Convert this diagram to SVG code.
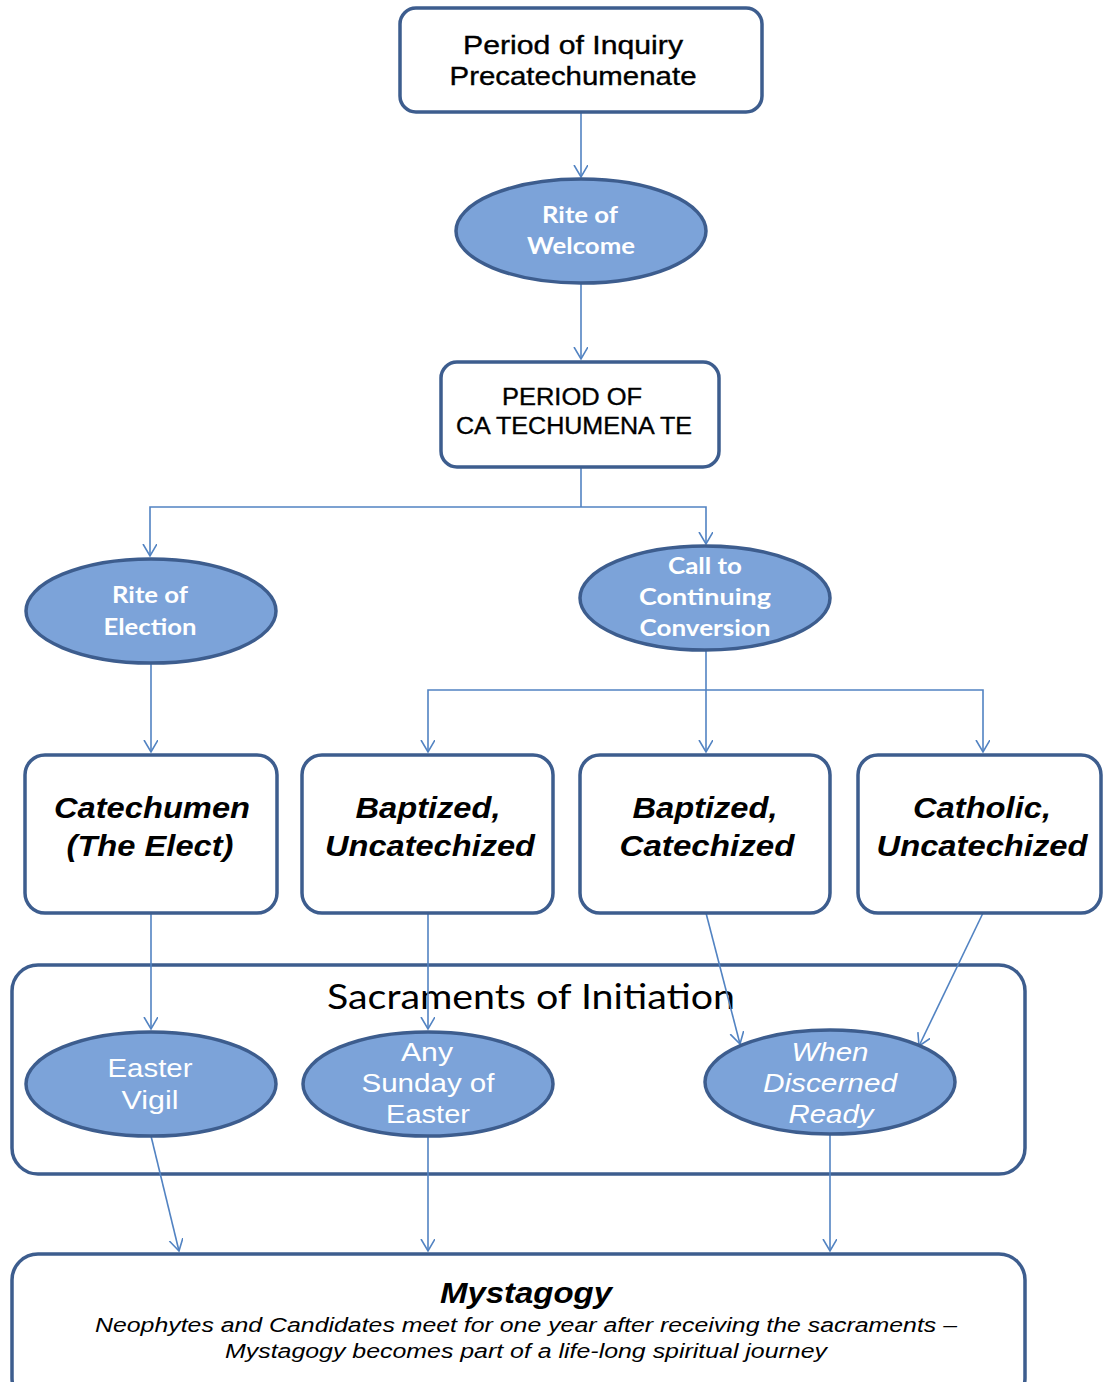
<svg xmlns="http://www.w3.org/2000/svg" width="1103" height="1382" viewBox="0 0 1103 1382">
<style>
.box{fill:#fff;stroke:#3d5d8e;stroke-width:3.5}
.frame{fill:none;stroke:#3d5d8e;stroke-width:3.5}
.ell{fill:#7ca3d9;stroke:#3d5d8e;stroke-width:3.5}
.con{fill:none;stroke:#5283c2;stroke-width:1.6}
.t1{font-family:"Liberation Sans",Arial,sans-serif;font-size:25px;fill:#000;stroke:#000;stroke-width:0.35;text-anchor:middle}
.te{font-family:Lato,"Open Sans",sans-serif;font-weight:bold;font-size:23px;fill:#fff;text-anchor:middle}
.tw{font-family:"Liberation Sans",Arial,sans-serif;font-size:25px;fill:#fff;text-anchor:middle}
.tb{font-family:"Liberation Sans",Arial,sans-serif;font-weight:bold;font-style:italic;font-size:29px;fill:#000;text-anchor:middle}
.ts{font-family:"Liberation Sans",Arial,sans-serif;font-style:italic;font-size:20px;fill:#000;text-anchor:middle}
</style>
<defs>
<marker id="arr" markerUnits="userSpaceOnUse" markerWidth="16" markerHeight="16" refX="12" refY="7" orient="auto">
<path d="M0,0 L12,7 L0,14" fill="none" stroke="#5283c2" stroke-width="1.6"/>
</marker>
</defs>
<rect width="1103" height="1382" fill="#fff"/>
<g id="sacraments">
<rect class="frame" x="12" y="965" width="1013" height="209" rx="26"/>
<text x="531" y="1009" textLength="408" lengthAdjust="spacingAndGlyphs" style="font-family:Lato,'Open Sans',sans-serif;font-size:35px;fill:#000;text-anchor:middle">Sacraments of Initiation</text>
</g>
<g id="connectors" class="con">
<path d="M581,112 V177" marker-end="url(#arr)"/>
<path d="M581,283 V359" marker-end="url(#arr)"/>
<path d="M581,467 V507"/>
<path d="M581,507 H150 V556" marker-end="url(#arr)"/>
<path d="M581,507 H706 V544" marker-end="url(#arr)"/>
<path d="M151,664 V752" marker-end="url(#arr)"/>
<path d="M706,651 V752" marker-end="url(#arr)"/>
<path d="M706,690 H428 V752" marker-end="url(#arr)"/>
<path d="M706,690 H983 V752" marker-end="url(#arr)"/>
<path d="M151,913 V1029" marker-end="url(#arr)"/>
<path d="M428,913 V1029" marker-end="url(#arr)"/>
<path d="M706,913 L740,1044" marker-end="url(#arr)"/>
<path d="M983,913 L919,1046" marker-end="url(#arr)"/>
<path d="M151,1136 L179,1251" marker-end="url(#arr)"/>
<path d="M428,1136 V1251" marker-end="url(#arr)"/>
<path d="M830,1134 V1251" marker-end="url(#arr)"/>
</g>
<g id="inquiry">
<rect class="box" x="400" y="8" width="362" height="104" rx="16"/>
<text class="t1" x="573" y="54" textLength="220" lengthAdjust="spacingAndGlyphs">Period of Inquiry</text>
<text class="t1" x="573" y="85" textLength="247" lengthAdjust="spacingAndGlyphs">Precatechumenate</text>
</g>
<g id="welcome">
<ellipse class="ell" cx="581" cy="231" rx="125" ry="52"/>
<text class="te" x="580" y="223" textLength="76" lengthAdjust="spacingAndGlyphs">Rite of</text>
<text class="te" x="581" y="254" textLength="108" lengthAdjust="spacingAndGlyphs">Welcome</text>
</g>
<g id="catechumenate">
<rect class="box" x="441" y="362" width="278" height="105" rx="16"/>
<text class="t1" x="572" y="405" style="font-size:23px" textLength="140" lengthAdjust="spacingAndGlyphs">PERIOD OF</text>
<text class="t1" x="574" y="434" style="font-size:23px" textLength="236" lengthAdjust="spacingAndGlyphs">CA TECHUMENA TE</text>
</g>
<g id="election">
<ellipse class="ell" cx="151" cy="611" rx="125" ry="52"/>
<text class="te" x="150" y="603" textLength="76" lengthAdjust="spacingAndGlyphs">Rite of</text>
<text class="te" x="150" y="635" textLength="93" lengthAdjust="spacingAndGlyphs">Election</text>
</g>
<g id="call">
<ellipse class="ell" cx="705" cy="598" rx="125" ry="52"/>
<text class="te" x="705" y="574" textLength="74" lengthAdjust="spacingAndGlyphs">Call to</text>
<text class="te" x="705" y="605" textLength="132" lengthAdjust="spacingAndGlyphs">Continuing</text>
<text class="te" x="705" y="636" textLength="131" lengthAdjust="spacingAndGlyphs">Conversion</text>
</g>
<g id="catechumen">
<rect class="box" x="25" y="755" width="252" height="158" rx="20"/>
<text class="tb" x="152" y="818" textLength="196" lengthAdjust="spacingAndGlyphs">Catechumen</text>
<text class="tb" x="150" y="856" textLength="167" lengthAdjust="spacingAndGlyphs">(The Elect)</text>
</g>
<g id="bapt-uncat">
<rect class="box" x="302" y="755" width="251" height="158" rx="20"/>
<text class="tb" x="428" y="818" textLength="145" lengthAdjust="spacingAndGlyphs">Baptized,</text>
<text class="tb" x="430" y="856" textLength="210" lengthAdjust="spacingAndGlyphs">Uncatechized</text>
</g>
<g id="bapt-cat">
<rect class="box" x="580" y="755" width="250" height="158" rx="20"/>
<text class="tb" x="705" y="818" textLength="145" lengthAdjust="spacingAndGlyphs">Baptized,</text>
<text class="tb" x="707" y="856" textLength="175" lengthAdjust="spacingAndGlyphs">Catechized</text>
</g>
<g id="cath-uncat">
<rect class="box" x="858" y="755" width="243" height="158" rx="20"/>
<text class="tb" x="982" y="818" textLength="138" lengthAdjust="spacingAndGlyphs">Catholic,</text>
<text class="tb" x="982" y="856" textLength="211" lengthAdjust="spacingAndGlyphs">Uncatechized</text>
</g>
<g id="easter-vigil">
<ellipse class="ell" cx="151" cy="1084" rx="125" ry="52"/>
<text class="tw" x="150" y="1077" textLength="85" lengthAdjust="spacingAndGlyphs">Easter</text>
<text class="tw" x="150" y="1109" textLength="57" lengthAdjust="spacingAndGlyphs">Vigil</text>
</g>
<g id="any-sunday">
<ellipse class="ell" cx="428" cy="1084" rx="125" ry="52"/>
<text class="tw" x="427" y="1061" textLength="52" lengthAdjust="spacingAndGlyphs">Any</text>
<text class="tw" x="428" y="1092" textLength="133" lengthAdjust="spacingAndGlyphs">Sunday of</text>
<text class="tw" x="428" y="1123" textLength="84" lengthAdjust="spacingAndGlyphs">Easter</text>
</g>
<g id="discerned">
<ellipse class="ell" cx="830" cy="1082" rx="125" ry="52"/>
<text class="tw" x="830" y="1061" style="font-style:italic" textLength="77" lengthAdjust="spacingAndGlyphs">When</text>
<text class="tw" x="830" y="1092" style="font-style:italic" textLength="134" lengthAdjust="spacingAndGlyphs">Discerned</text>
<text class="tw" x="831" y="1123" style="font-style:italic" textLength="85" lengthAdjust="spacingAndGlyphs">Ready</text>
</g>
<g id="mystagogy">
<rect class="box" x="12" y="1254" width="1013" height="150" rx="26"/>
<text class="tb" x="526" y="1303" textLength="172" lengthAdjust="spacingAndGlyphs">Mystagogy</text>
<text class="ts" x="526" y="1332" textLength="862" lengthAdjust="spacingAndGlyphs">Neophytes  and Candidates  meet for one year after  receiving the sacraments  –</text>
<text class="ts" x="526" y="1358" textLength="602" lengthAdjust="spacingAndGlyphs">Mystagogy  becomes  part of a life-long spiritual journey</text>
</g>
</svg>
